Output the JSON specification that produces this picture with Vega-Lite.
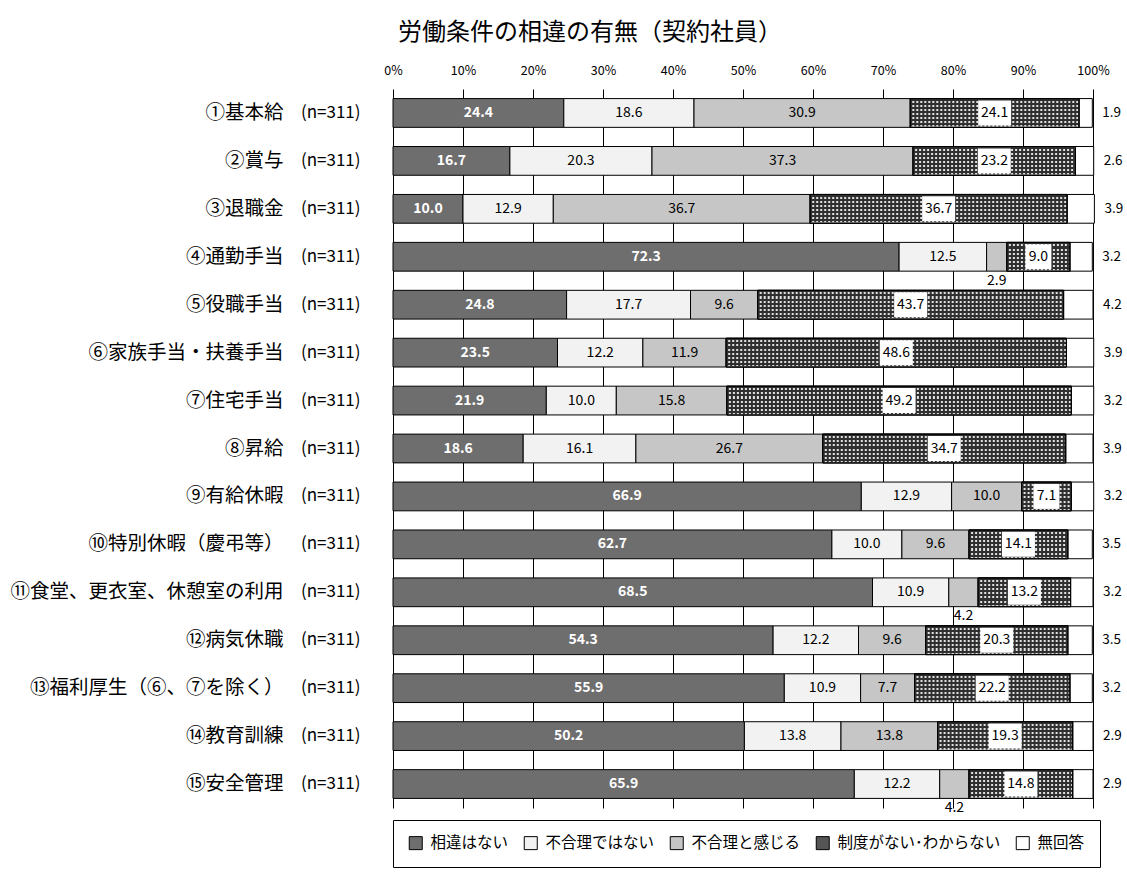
{
  "$schema": "https://vega.github.io/schema/vega-lite/v6.json",
  "autosize": {"type": "none"},
  "width": 700,
  "height": 719,
  "padding": {"left": 393, "top": 89, "right": 34, "bottom": 64},
  "background": "white",
  "title": {"text": "労働条件の相違の有無（契約社員）", "anchor": "start", "frame": "group", "dx": 5, "fontSize": 24, "fontWeight": "normal", "font": "Noto Sans CJK JP", "color": "#000", "offset": 19},
  "config": {"view": {"stroke": null}, "font": "Noto Sans CJK JP"},
  "resolve": {"axis": {"y": "independent"}},
  "data": {"values": [
    {"item": "①基本給", "cat": "相違はない", "k": 1, "v": 24.4},
    {"item": "①基本給", "cat": "不合理ではない", "k": 2, "v": 18.6},
    {"item": "①基本給", "cat": "不合理と感じる", "k": 3, "v": 30.9},
    {"item": "①基本給", "cat": "制度がない･わからない", "k": 4, "v": 24.1},
    {"item": "①基本給", "cat": "無回答", "k": 5, "v": 1.9},
    {"item": "②賞与", "cat": "相違はない", "k": 1, "v": 16.7},
    {"item": "②賞与", "cat": "不合理ではない", "k": 2, "v": 20.3},
    {"item": "②賞与", "cat": "不合理と感じる", "k": 3, "v": 37.3},
    {"item": "②賞与", "cat": "制度がない･わからない", "k": 4, "v": 23.2},
    {"item": "②賞与", "cat": "無回答", "k": 5, "v": 2.6},
    {"item": "③退職金", "cat": "相違はない", "k": 1, "v": 10.0},
    {"item": "③退職金", "cat": "不合理ではない", "k": 2, "v": 12.9},
    {"item": "③退職金", "cat": "不合理と感じる", "k": 3, "v": 36.7},
    {"item": "③退職金", "cat": "制度がない･わからない", "k": 4, "v": 36.7},
    {"item": "③退職金", "cat": "無回答", "k": 5, "v": 3.9},
    {"item": "④通勤手当", "cat": "相違はない", "k": 1, "v": 72.3},
    {"item": "④通勤手当", "cat": "不合理ではない", "k": 2, "v": 12.5},
    {"item": "④通勤手当", "cat": "不合理と感じる", "k": 3, "v": 2.9},
    {"item": "④通勤手当", "cat": "制度がない･わからない", "k": 4, "v": 9.0},
    {"item": "④通勤手当", "cat": "無回答", "k": 5, "v": 3.2},
    {"item": "⑤役職手当", "cat": "相違はない", "k": 1, "v": 24.8},
    {"item": "⑤役職手当", "cat": "不合理ではない", "k": 2, "v": 17.7},
    {"item": "⑤役職手当", "cat": "不合理と感じる", "k": 3, "v": 9.6},
    {"item": "⑤役職手当", "cat": "制度がない･わからない", "k": 4, "v": 43.7},
    {"item": "⑤役職手当", "cat": "無回答", "k": 5, "v": 4.2},
    {"item": "⑥家族手当・扶養手当", "cat": "相違はない", "k": 1, "v": 23.5},
    {"item": "⑥家族手当・扶養手当", "cat": "不合理ではない", "k": 2, "v": 12.2},
    {"item": "⑥家族手当・扶養手当", "cat": "不合理と感じる", "k": 3, "v": 11.9},
    {"item": "⑥家族手当・扶養手当", "cat": "制度がない･わからない", "k": 4, "v": 48.6},
    {"item": "⑥家族手当・扶養手当", "cat": "無回答", "k": 5, "v": 3.9},
    {"item": "⑦住宅手当", "cat": "相違はない", "k": 1, "v": 21.9},
    {"item": "⑦住宅手当", "cat": "不合理ではない", "k": 2, "v": 10.0},
    {"item": "⑦住宅手当", "cat": "不合理と感じる", "k": 3, "v": 15.8},
    {"item": "⑦住宅手当", "cat": "制度がない･わからない", "k": 4, "v": 49.2},
    {"item": "⑦住宅手当", "cat": "無回答", "k": 5, "v": 3.2},
    {"item": "⑧昇給", "cat": "相違はない", "k": 1, "v": 18.6},
    {"item": "⑧昇給", "cat": "不合理ではない", "k": 2, "v": 16.1},
    {"item": "⑧昇給", "cat": "不合理と感じる", "k": 3, "v": 26.7},
    {"item": "⑧昇給", "cat": "制度がない･わからない", "k": 4, "v": 34.7},
    {"item": "⑧昇給", "cat": "無回答", "k": 5, "v": 3.9},
    {"item": "⑨有給休暇", "cat": "相違はない", "k": 1, "v": 66.9},
    {"item": "⑨有給休暇", "cat": "不合理ではない", "k": 2, "v": 12.9},
    {"item": "⑨有給休暇", "cat": "不合理と感じる", "k": 3, "v": 10.0},
    {"item": "⑨有給休暇", "cat": "制度がない･わからない", "k": 4, "v": 7.1},
    {"item": "⑨有給休暇", "cat": "無回答", "k": 5, "v": 3.2},
    {"item": "⑩特別休暇（慶弔等）", "cat": "相違はない", "k": 1, "v": 62.7},
    {"item": "⑩特別休暇（慶弔等）", "cat": "不合理ではない", "k": 2, "v": 10.0},
    {"item": "⑩特別休暇（慶弔等）", "cat": "不合理と感じる", "k": 3, "v": 9.6},
    {"item": "⑩特別休暇（慶弔等）", "cat": "制度がない･わからない", "k": 4, "v": 14.1},
    {"item": "⑩特別休暇（慶弔等）", "cat": "無回答", "k": 5, "v": 3.5},
    {"item": "⑪食堂、更衣室、休憩室の利用", "cat": "相違はない", "k": 1, "v": 68.5},
    {"item": "⑪食堂、更衣室、休憩室の利用", "cat": "不合理ではない", "k": 2, "v": 10.9},
    {"item": "⑪食堂、更衣室、休憩室の利用", "cat": "不合理と感じる", "k": 3, "v": 4.2},
    {"item": "⑪食堂、更衣室、休憩室の利用", "cat": "制度がない･わからない", "k": 4, "v": 13.2},
    {"item": "⑪食堂、更衣室、休憩室の利用", "cat": "無回答", "k": 5, "v": 3.2},
    {"item": "⑫病気休職", "cat": "相違はない", "k": 1, "v": 54.3},
    {"item": "⑫病気休職", "cat": "不合理ではない", "k": 2, "v": 12.2},
    {"item": "⑫病気休職", "cat": "不合理と感じる", "k": 3, "v": 9.6},
    {"item": "⑫病気休職", "cat": "制度がない･わからない", "k": 4, "v": 20.3},
    {"item": "⑫病気休職", "cat": "無回答", "k": 5, "v": 3.5},
    {"item": "⑬福利厚生（⑥、⑦を除く）", "cat": "相違はない", "k": 1, "v": 55.9},
    {"item": "⑬福利厚生（⑥、⑦を除く）", "cat": "不合理ではない", "k": 2, "v": 10.9},
    {"item": "⑬福利厚生（⑥、⑦を除く）", "cat": "不合理と感じる", "k": 3, "v": 7.7},
    {"item": "⑬福利厚生（⑥、⑦を除く）", "cat": "制度がない･わからない", "k": 4, "v": 22.2},
    {"item": "⑬福利厚生（⑥、⑦を除く）", "cat": "無回答", "k": 5, "v": 3.2},
    {"item": "⑭教育訓練", "cat": "相違はない", "k": 1, "v": 50.2},
    {"item": "⑭教育訓練", "cat": "不合理ではない", "k": 2, "v": 13.8},
    {"item": "⑭教育訓練", "cat": "不合理と感じる", "k": 3, "v": 13.8},
    {"item": "⑭教育訓練", "cat": "制度がない･わからない", "k": 4, "v": 19.3},
    {"item": "⑭教育訓練", "cat": "無回答", "k": 5, "v": 2.9},
    {"item": "⑮安全管理", "cat": "相違はない", "k": 1, "v": 65.9},
    {"item": "⑮安全管理", "cat": "不合理ではない", "k": 2, "v": 12.2},
    {"item": "⑮安全管理", "cat": "不合理と感じる", "k": 3, "v": 4.2},
    {"item": "⑮安全管理", "cat": "制度がない･わからない", "k": 4, "v": 14.8},
    {"item": "⑮安全管理", "cat": "無回答", "k": 5, "v": 2.9}
  ]},
  "transform": [
    {"stack": "v", "groupby": ["item"], "sort": [{"field": "k", "order": "ascending"}], "as": ["v0", "v1"]}
  ],
  "encoding": {
    "y": {"field": "item", "type": "nominal", "title": null, "axis": null,
      "scale": {"domain": ["①基本給","②賞与","③退職金","④通勤手当","⑤役職手当","⑥家族手当・扶養手当","⑦住宅手当","⑧昇給","⑨有給休暇","⑩特別休暇（慶弔等）","⑪食堂、更衣室、休憩室の利用","⑫病気休職","⑬福利厚生（⑥、⑦を除く）","⑭教育訓練","⑮安全管理"], "paddingInner": 0.4, "paddingOuter": 0.2}}
  },
  "layer": [
    {
      "mark": {"type": "bar", "stroke": "#000", "strokeWidth": 1},
      "encoding": {
        "x": {"field": "v0", "type": "quantitative", "title": null,
          "scale": {"domain": [0, 100], "nice": false},
          "axis": {"orient": "top", "values": [0,10,20,30,40,50,60,70,80,90,100], "labelExpr": "datum.value + '%'", "grid": true, "gridColor": "#000", "gridWidth": 1, "gridOpacity": 1, "domain": false, "ticks": false, "labelFontSize": 12.5, "labelColor": "#000", "labelPadding": 12, "labelFont": "Noto Sans CJK JP", "labelFlush": false}},
        "x2": {"field": "v1"},
        "y": {"field": "item", "type": "nominal", "title": null,
          "scale": {"domain": ["①基本給","②賞与","③退職金","④通勤手当","⑤役職手当","⑥家族手当・扶養手当","⑦住宅手当","⑧昇給","⑨有給休暇","⑩特別休暇（慶弔等）","⑪食堂、更衣室、休憩室の利用","⑫病気休職","⑬福利厚生（⑥、⑦を除く）","⑭教育訓練","⑮安全管理"], "paddingInner": 0.4, "paddingOuter": 0.2},
          "axis": {"orient": "left", "domain": false, "ticks": false, "grid": false, "labelFontSize": 19.5, "labelColor": "#000", "labelPadding": 110, "labelLimit": 500, "labelFont": "Noto Sans CJK JP"}},
        "color": {"field": "cat", "type": "nominal",
          "scale": {"domain": ["相違はない","不合理ではない","不合理と感じる","制度がない･わからない","無回答"],
            "range": ["#6e6e6e", "#f2f2f2", "#c6c6c6", "#555555", "#ffffff"]},
          "legend": {"orient": "none", "legendX": 0, "legendY": 731, "direction": "horizontal", "title": null, "symbolType": "square", "symbolSize": 169, "symbolStrokeColor": "#000", "symbolStrokeWidth": 1, "symbolOpacity": 1, "labelFontSize": 15.5, "labelLimit": 400, "labelFont": "Noto Sans CJK JP", "labelColor": "#000", "strokeColor": "#000", "padding": 15, "columnPadding": 13, "labelOffset": 7, "fillColor": "#fff"}}
      }
    },
    {
      "transform": [{"filter": "datum.k == 4"}],
      "mark": {"type": "bar", "stroke": "#000", "strokeWidth": 1,
        "fill": {"gradient": "linear", "x1": 0, "y1": 0, "x2": 0, "y2": 1, "stops": [
                {"offset": 0.0, "color": "#303030"}, {"offset": 0.0714, "color": "#303030"}, {"offset": 0.0714, "color": "#e2e2e2"}, {"offset": 0.1429, "color": "#e2e2e2"},
                {"offset": 0.1429, "color": "#303030"}, {"offset": 0.2143, "color": "#303030"}, {"offset": 0.2143, "color": "#e2e2e2"}, {"offset": 0.2857, "color": "#e2e2e2"},
                {"offset": 0.2857, "color": "#303030"}, {"offset": 0.3571, "color": "#303030"}, {"offset": 0.3571, "color": "#e2e2e2"}, {"offset": 0.4286, "color": "#e2e2e2"},
                {"offset": 0.4286, "color": "#303030"}, {"offset": 0.5, "color": "#303030"}, {"offset": 0.5, "color": "#e2e2e2"}, {"offset": 0.5714, "color": "#e2e2e2"},
                {"offset": 0.5714, "color": "#303030"}, {"offset": 0.6429, "color": "#303030"}, {"offset": 0.6429, "color": "#e2e2e2"}, {"offset": 0.7143, "color": "#e2e2e2"},
                {"offset": 0.7143, "color": "#303030"}, {"offset": 0.7857, "color": "#303030"}, {"offset": 0.7857, "color": "#e2e2e2"}, {"offset": 0.8571, "color": "#e2e2e2"},
                {"offset": 0.8571, "color": "#303030"}, {"offset": 0.9286, "color": "#303030"}, {"offset": 0.9286, "color": "#e2e2e2"}, {"offset": 1.0, "color": "#e2e2e2"}
              ]}},
      "encoding": {
        "x": {"field": "v0", "type": "quantitative", "title": null},
        "x2": {"field": "v1"}
      }
    },
    {
      "transform": [{"filter": "datum.k == 4"}],
      "mark": {"type": "rule", "strokeWidth": 27, "strokeDash": [2, 2], "color": "#303030", "opacity": 1},
      "encoding": {
        "x": {"field": "v0", "type": "quantitative", "title": null},
        "x2": {"field": "v1"}
      }
    },
    {
      "transform": [{"filter": "datum.k == 4"}],
      "mark": {"type": "bar", "stroke": "#000", "strokeWidth": 1, "fill": null, "fillOpacity": 0},
      "encoding": {
        "x": {"field": "v0", "type": "quantitative", "title": null},
        "x2": {"field": "v1"}
      }
    },
    {
      "transform": [{"filter": "datum.k == 5"}],
      "mark": {"type": "text", "align": "left", "baseline": "middle", "dx": 10, "fontSize": 13.5, "color": "#000"},
      "encoding": {
        "x": {"field": "v1", "type": "quantitative", "title": null},
        "y": {"field": "item", "type": "nominal", "title": null,
          "scale": {"domain": ["①基本給","②賞与","③退職金","④通勤手当","⑤役職手当","⑥家族手当・扶養手当","⑦住宅手当","⑧昇給","⑨有給休暇","⑩特別休暇（慶弔等）","⑪食堂、更衣室、休憩室の利用","⑫病気休職","⑬福利厚生（⑥、⑦を除く）","⑭教育訓練","⑮安全管理"], "paddingInner": 0.4, "paddingOuter": 0.2},
          "axis": {"orient": "left", "domain": false, "ticks": false, "grid": false, "labelExpr": "'(n=311)'", "labelFontSize": 17, "labelColor": "#000", "labelPadding": 33, "labelFont": "Noto Sans CJK JP"}},
        "text": {"field": "v", "type": "quantitative", "format": ".1f"}
      }
    },
    {
      "transform": [
        {"fold": ["v0", "v1"], "as": ["edge", "pos"]},
        {"aggregate": [{"op": "mean", "field": "pos", "as": "mid"}], "groupby": ["item", "cat", "k", "v"]}
      ],
      "encoding": {
        "x": {"field": "mid", "type": "quantitative", "title": null},
        "text": {"field": "v", "type": "quantitative", "format": ".1f"}
      },
      "layer": [
        {
          "transform": [{"filter": "datum.k == 1"}],
          "mark": {"type": "text", "align": "center", "baseline": "middle", "fontSize": 14, "fontWeight": "bold", "color": "#fff"}
        },
        {
          "transform": [{"filter": "(datum.k == 2 || datum.k == 3) && datum.v >= 5"}],
          "mark": {"type": "text", "align": "center", "baseline": "middle", "fontSize": 14, "color": "#000"}
        },
        {
          "transform": [{"filter": "datum.k == 3 && datum.v < 5"}],
          "mark": {"type": "text", "align": "center", "baseline": "middle", "fontSize": 14, "color": "#000", "dy": 24}
        },
        {
          "transform": [{"filter": "datum.k == 4 && datum.v >= 10"}],
          "mark": {"type": "tick", "orient": "vertical", "thickness": 33, "size": 25, "color": "#fff", "opacity": 1}
        },
        {
          "transform": [{"filter": "datum.k == 4 && datum.v < 10"}],
          "mark": {"type": "tick", "orient": "vertical", "thickness": 26, "size": 25, "color": "#fff", "opacity": 1}
        },
        {
          "transform": [{"filter": "datum.k == 4"}],
          "mark": {"type": "text", "align": "center", "baseline": "middle", "fontSize": 14, "color": "#000"}
        }
      ]
    }
  ]
}
